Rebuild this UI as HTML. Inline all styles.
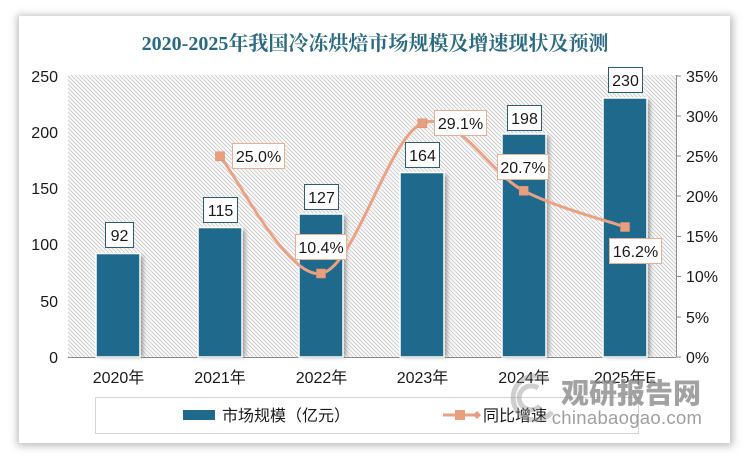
<!DOCTYPE html>
<html><head><meta charset="utf-8"><style>
html,body{margin:0;padding:0;background:#fff;}
body{width:747px;height:458px;overflow:hidden;position:relative;}
svg{position:absolute;left:0;top:0;}
text{font-family:"Liberation Sans","Noto Sans CJK SC",sans-serif;fill:#1a1a1a;}
</style></head><body>
<svg width="747" height="458" viewBox="0 0 747 458" xmlns="http://www.w3.org/2000/svg">
<defs>
<pattern id="hatch" width="4" height="4" patternUnits="userSpaceOnUse">
<rect width="4" height="4" fill="#fafafa"/>
<path d="M0,0 L4,4 M-1,3 L1,5 M3,-1 L5,1" stroke="#c9c9c9" stroke-width="0.8"/>
</pattern>
<filter id="cardsh" x="-5%" y="-5%" width="110%" height="110%">
<feGaussianBlur stdDeviation="4"/>
</filter>
<filter id="barsh" x="-20%" y="-20%" width="150%" height="150%">
<feGaussianBlur stdDeviation="2"/>
</filter>
</defs>

<!-- card -->
<rect x="17" y="15" width="716" height="431" fill="#bdbdbd" filter="url(#cardsh)"/>
<rect x="19" y="16" width="711" height="427" fill="#fff"/>

<!-- title -->
<text x="375" y="50" text-anchor="middle" style="font-family:'Liberation Serif','Noto Serif CJK SC',serif;font-size:20px;font-weight:bold;fill:#2b6a80;">2020-2025年我国冷冻烘焙市场规模及增速现状及预测</text>

<!-- plot area -->
<rect x="68" y="75" width="608" height="282" fill="url(#hatch)"/>

<!-- baseline & right axis -->
<line x1="68" y1="357.5" x2="676" y2="357.5" stroke="#8a8a8a" stroke-width="1"/>
<line x1="676.5" y1="75" x2="676.5" y2="357" stroke="#8a8a8a" stroke-width="1"/>
<g stroke="#8a8a8a" stroke-width="1">
<line x1="676" y1="76" x2="681" y2="76"/>
<line x1="676" y1="116" x2="681" y2="116"/>
<line x1="676" y1="156" x2="681" y2="156"/>
<line x1="676" y1="196" x2="681" y2="196"/>
<line x1="676" y1="236.5" x2="681" y2="236.5"/>
<line x1="676" y1="276.5" x2="681" y2="276.5"/>
<line x1="676" y1="317" x2="681" y2="317"/>
<line x1="676" y1="357" x2="681" y2="357"/>
</g>

<!-- left axis labels -->
<g font-size="16" text-anchor="end">
<text x="58" y="82">250</text>
<text x="58" y="138">200</text>
<text x="58" y="194">150</text>
<text x="58" y="250">100</text>
<text x="58" y="307">50</text>
<text x="58" y="363">0</text>
</g>
<!-- right axis labels -->
<g font-size="16">
<text x="686" y="82">35%</text>
<text x="686" y="122">30%</text>
<text x="686" y="162">25%</text>
<text x="686" y="202">20%</text>
<text x="686" y="242">15%</text>
<text x="686" y="282">10%</text>
<text x="686" y="323">5%</text>
<text x="686" y="363">0%</text>
</g>

<!-- bar shadows -->
<g fill="#555" opacity="0.55" filter="url(#barsh)">
<rect x="99" y="256" width="44" height="101"/>
<rect x="201" y="230" width="44" height="127"/>
<rect x="302" y="216" width="44" height="141"/>
<rect x="403" y="175" width="44" height="182"/>
<rect x="505" y="136" width="44" height="221"/>
<rect x="606" y="100" width="44" height="257"/>
</g>
<!-- bars -->
<g fill="#1f6a8c" stroke="#ffffff" stroke-width="1.5">
<rect x="96" y="253.5" width="44" height="103.5"/>
<rect x="198" y="227.5" width="44" height="129.5"/>
<rect x="299" y="214" width="44" height="143"/>
<rect x="400" y="172.5" width="44" height="184.5"/>
<rect x="502" y="134" width="44" height="223"/>
<rect x="603" y="98" width="44" height="259"/>
</g>

<!-- bar labels -->
<g fill="#fff" stroke="#2f5c6c" stroke-width="1">
<rect x="105.5" y="222.5" width="28" height="25"/>
<rect x="203.5" y="197.5" width="34" height="25"/>
<rect x="304.5" y="184.5" width="34" height="25"/>
<rect x="405.5" y="142.5" width="34" height="25"/>
<rect x="507.5" y="105.5" width="34" height="25"/>
<rect x="608.5" y="67.5" width="34" height="25"/>
</g>
<g font-size="16" text-anchor="middle">
<text x="119.5" y="241">92</text>
<text x="220.5" y="216">115</text>
<text x="321.5" y="203">127</text>
<text x="422.5" y="161">164</text>
<text x="524.5" y="124">198</text>
<text x="625.5" y="86">230</text>
</g>

<!-- line -->
<path d="M220,156.3 C236.8,175.8 287.3,279 321,273.5 C354.7,268 388.5,137.1 422.3,123.3 C456.1,109.5 489.9,173.5 523.7,190.8 C557.5,208.1 608.1,221 625,227" fill="none" stroke="#e9a384" stroke-width="3" stroke-linecap="round"/>
<g fill="#e89f7e" stroke="#d98e6d" stroke-width="0.6">
<rect x="215.5" y="151.8" width="9" height="9"/>
<rect x="316.5" y="269" width="9" height="9"/>
<rect x="417.8" y="118.8" width="9" height="9"/>
<rect x="519.2" y="186.3" width="9" height="9"/>
<rect x="620.5" y="222.5" width="9" height="9"/>
</g>

<!-- pct labels -->
<g fill="#fff" stroke="#e3b197" stroke-width="1">
<rect x="232.5" y="143.5" width="52" height="25"/>
<rect x="295.5" y="234.5" width="51" height="25"/>
<rect x="434.5" y="110.5" width="52" height="25"/>
<rect x="497.5" y="154.5" width="51" height="25"/>
<rect x="609.5" y="238.5" width="52" height="25"/>
</g>
<g font-size="16" text-anchor="middle">
<text x="258.5" y="162">25.0%</text>
<text x="321" y="253">10.4%</text>
<text x="460.5" y="129">29.1%</text>
<text x="523" y="173">20.7%</text>
<text x="635.5" y="257">16.2%</text>
</g>

<!-- x labels -->
<g font-size="16" text-anchor="middle">
<text x="118.5" y="383">2020年</text>
<text x="220" y="383">2021年</text>
<text x="321.5" y="383">2022年</text>
<text x="422.5" y="383">2023年</text>
<text x="524" y="383">2024年</text>
<text x="625" y="383">2025年E</text>
</g>

<!-- legend -->
<rect x="95.5" y="397.5" width="543" height="36" fill="none" stroke="#d4d4d4" stroke-width="1"/>
<rect x="183" y="410" width="32" height="10" fill="#1f6a8c"/>
<text x="222" y="421" font-size="16">市场规模（亿元）</text>
<line x1="443" y1="415" x2="476" y2="415" stroke="#e9a384" stroke-width="3"/>
<rect x="455" y="410" width="10" height="10" fill="#e89f7e"/>
<path d="M473,415 L477,411 L481,415 L477,419 Z" fill="#e89f7e"/>
<text x="483" y="421" font-size="16">同比增速</text>

<!-- watermark -->
<g opacity="0.4" fill="none" stroke="#8a8a8a" stroke-width="5">
<path d="M548,380 A22,22 0 1 0 552,412"/>
<path d="M538,388 A12,12 0 1 0 540,406"/>
</g>
<text x="631" y="403" text-anchor="middle" style="font-family:'Noto Sans CJK SC',sans-serif;font-size:28px;font-weight:900;fill:#8c8c8c;opacity:0.8;">观研报告网</text>
<text x="627" y="424" text-anchor="middle" style="font-size:18.5px;fill:#8f8f8f;opacity:0.85;letter-spacing:0.3px;">chinabaogao.com</text>
</svg>
</body></html>
